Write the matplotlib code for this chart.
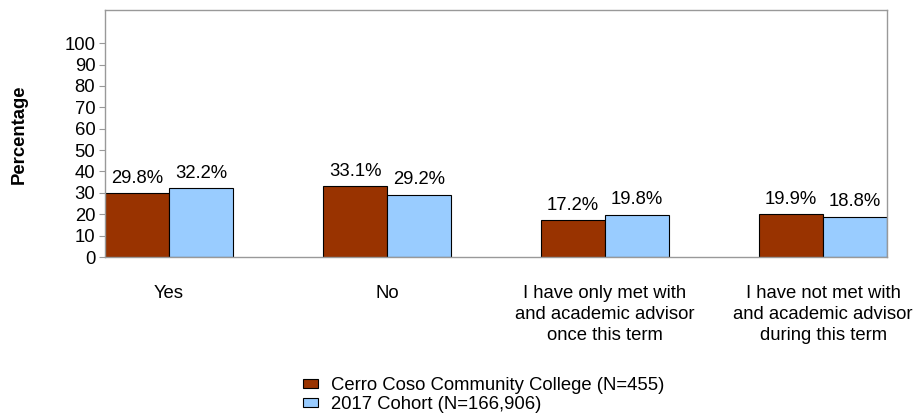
import matplotlib
matplotlib.use("Agg")
import matplotlib.pyplot as plt
import numpy as np

plt.rcParams["font.family"] = ["Liberation Sans", "DejaVu Sans"]

# Data
categories = [
    "Yes",
    "No",
    "I have only met with\nand academic advisor\nonce this term",
    "I have not met with\nand academic advisor\nduring this term",
]
college = [29.8, 33.1, 17.2, 19.9]
cohort = [32.2, 29.2, 19.8, 18.8]
series_names = ["Cerro Coso Community College (N=455)", "2017 Cohort (N=166,906)"]
yticks = list(range(0, 101, 10))

FS = 13.3

fig = plt.figure(figsize=(9.14, 4.13), dpi=100)
ax = fig.add_axes([105 / 914, 1 - 257 / 413, (887 - 105) / 914, (257 - 10) / 413])

x = np.arange(len(categories))
w = 0.293
b1 = ax.bar(x - w / 2, college, w, color="#993300", edgecolor="black", linewidth=0.8,
            label=series_names[0])
b2 = ax.bar(x + w / 2, cohort, w, color="#99CCFF", edgecolor="black", linewidth=0.8,
            label=series_names[1])

for bars, vals in [(b1, college), (b2, cohort)]:
    for r, v in zip(bars, vals):
        ax.text(r.get_x() + r.get_width() / 2, v + 7.0, f"{v:.1f}%",
                ha="center", va="center", fontsize=FS)

ax.set_xlim(-w, len(categories) - 1 + w)
ax.set_ylim(0, 115.5)
ax.set_yticks(yticks)
ax.set_xticks(x)
ax.set_xticklabels(categories, fontsize=FS, linespacing=1.33)
ax.tick_params(axis="x", length=0, pad=20)
ax.tick_params(axis="y", labelsize=FS, length=4, color="#999999", pad=3)
for s in ax.spines.values():
    s.set_color("#999999")
    s.set_linewidth(1)

fig.text(19 / 914, 1 - 134 / 413, "Percentage", rotation=90, ha="center", va="center",
         fontsize=FS, fontweight="bold")

fig.legend(handles=[b1, b2], labels=series_names, loc="upper left",
           bbox_to_anchor=(294 / 914, 1 - 368 / 413), frameon=False, fontsize=FS,
           handlelength=0.8, handleheight=0.4, handletextpad=0.7, labelspacing=0.1,
           borderpad=0)

fig.savefig("out.png", dpi=100)
